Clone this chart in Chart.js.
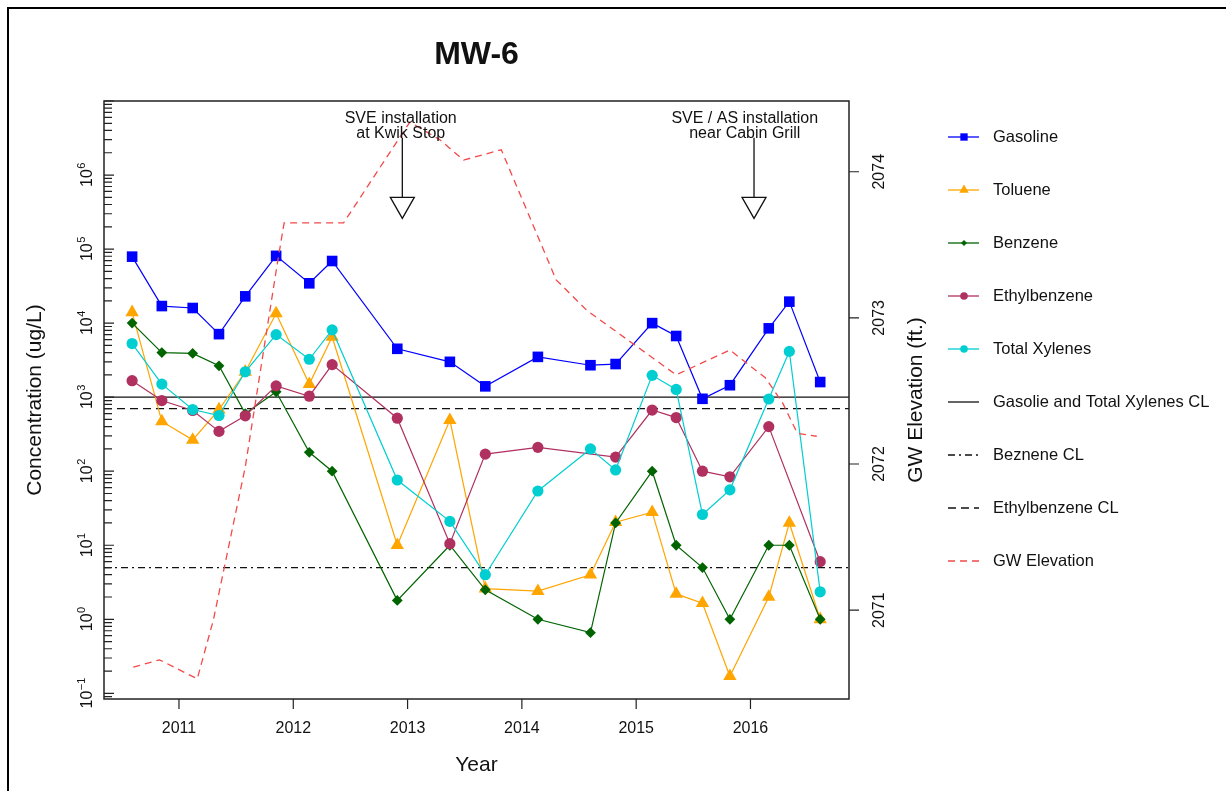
<!DOCTYPE html>
<html>
<head>
<meta charset="utf-8">
<script src="https://cdn.jsdelivr.net/npm/chart.js@4.4.0/dist/chart.umd.min.js"></script>
<style>
html,body{margin:0;padding:0;background:#fff;}
canvas{display:block;}
</style>
</head>
<body>
<canvas id="c" width="1226" height="791"></canvas>
<script>
// ---------------- DATA ----------------
const sampleDates = [2010.59, 2010.85, 2011.12, 2011.35, 2011.58, 2011.85, 2012.14, 2012.34, 2012.91, 2013.37, 2013.68,
                     2014.14, 2014.60, 2014.82, 2015.14, 2015.35, 2015.58, 2015.82, 2016.16, 2016.34, 2016.61];
const gasoline     = [79000, 17000, 16000, 7100, 23000, 81000, 34500, 69000, 4500, 3000, 1400,
                      3500, 2700, 2800, 10000, 6700, 950, 1450, 8500, 19500, 1600];
const toluene      = [14000, 470, 265, 680, 2200, 13500, 1500, 6500, 10, 490, 2.6,
                      2.4, 4.0, 20.5, 28, 2.2, 1.65, 0.17, 2.0, 20, 1.0];
const benzene      = [10000, 4000, 3900, 2650, 600, 1180, 180, 100, 1.8, 10, 2.5,
                      1.0, 0.66, 20, 100, 10, 5.0, 1.0, 10, 10, 1.0];
const ethylbenzene = [1670, 900, 660, 345, 560, 1420, 1030, 2750, 520, 10.5, 170,
                      210, null, 155, 670, 530, 100, 84, 400, null, 6.0];
const totalXylenes = [5300, 1500, 680, 565, 2200, 7000, 3250, 8100, 76, 21, 4.0,
                      54, 200, 104, 1970, 1270, 26, 56, 945, 4150, 2.35];

const gwDates     = [2010.60, 2010.83, 2011.16, 2011.30, 2011.58, 2011.86, 2011.92, 2012.44, 2013.02, 2013.28,
                     2013.49, 2013.82, 2014.30, 2014.57, 2015.35, 2015.82, 2016.13, 2016.28, 2016.41, 2016.58];
const gwElevation = [2070.61, 2070.66, 2070.53, 2070.93, 2071.98, 2073.37, 2073.65, 2073.65, 2074.34, 2074.22,
                     2074.08, 2074.15, 2073.26, 2073.05, 2072.61, 2072.78, 2072.59, 2072.42, 2072.21, 2072.19];

const clValues = [1000, 5, 700];
const clLabels = ['Gasolie and Total Xylenes CL', 'Beznene CL', 'Ethylbenzene CL'];

const yearTicks = [2011, 2012, 2013, 2014, 2015, 2016];
const concExponents = [-1, 0, 1, 2, 3, 4, 5, 6];
const gwTicks = [2071, 2072, 2073, 2074];

const eventLabels = [['SVE installation', 'at Kwik Stop'], ['SVE / AS installation', 'near Cabin Grill']];
const eventTextX = [2012.94, 2015.95];
const eventTextY = [5.7e6, 5.7e6];
const eventArrowX = [2012.954, 2016.031];
const eventArrowTop = [3.2e6, 3.2e6];
const eventArrowTip = [2.6e5, 2.6e5];

const seriesNames = ['Gasoline', 'Toluene', 'Benzene', 'Ethylbenzene', 'Total Xylenes'];
const seriesValues = [gasoline, toluene, benzene, ethylbenzene, totalXylenes];

// ---------------- STYLE ----------------
const FONT = '"Liberation Sans", Arial, Helvetica, sans-serif';
const seriesColors = ['#0000FF', '#FFA500', '#006400', '#B03060', '#00CED1'];
const seriesStyles = ['rect', 'triangle', 'rectRot', 'circle', 'circle'];
const seriesRadius = [7.5, 7.7, 5.4, 5.6, 5.6];
const legendRadius = [5.2, 5.4, 3.0, 3.8, 3.8];
const GW_COLOR = '#F24A4A';
const GW_DASH = [7, 5];
const CL_DASH = [[], [7, 4, 2, 4], [8, 5]];
const TEXT = '#111';

function pts(xs, ys) { return xs.map((x, i) => ({x: x, y: ys[i]})); }

const datasets = seriesNames.map((name, i) => ({
  label: name,
  data: pts(sampleDates, seriesValues[i]),
  yAxisID: 'y',
  borderColor: seriesColors[i],
  backgroundColor: seriesColors[i],
  pointBackgroundColor: seriesColors[i],
  pointStyle: seriesStyles[i],
  pointRadius: seriesRadius[i],
  pointHoverRadius: seriesRadius[i],
  pointBorderWidth: 0,
  borderWidth: 1.2,
  showLine: true,
  spanGaps: true,
  tension: 0,
  order: 10 - i
}));
datasets.push({
  label: 'GW Elevation',
  data: pts(gwDates, gwElevation),
  yAxisID: 'y2',
  borderColor: GW_COLOR,
  backgroundColor: GW_COLOR,
  borderDash: GW_DASH,
  borderWidth: 1.3,
  pointRadius: 0,
  pointHoverRadius: 0,
  showLine: true,
  tension: 0,
  order: 1
});

function rotText(ctx, text, x, y) {
  ctx.save();
  ctx.translate(x, y);
  ctx.rotate(-Math.PI / 2);
  ctx.textAlign = 'center';
  ctx.textBaseline = 'middle';
  ctx.fillText(text, 0, 0);
  ctx.restore();
}

function drawPow(ctx, exp, cx, cy) {
  ctx.save();
  ctx.translate(cx, cy);
  ctx.rotate(-Math.PI / 2);
  const e = String(exp).replace('-', '\u2212');
  ctx.font = '16px ' + FONT;
  const w1 = ctx.measureText('10').width;
  ctx.font = '11px ' + FONT;
  const w2 = ctx.measureText(e).width;
  const start = -(w1 + w2) / 2;
  ctx.textAlign = 'left';
  ctx.textBaseline = 'alphabetic';
  ctx.font = '16px ' + FONT;
  ctx.fillText('10', start, 6);
  ctx.font = '11px ' + FONT;
  ctx.fillText(e, start + w1 + 0.5, -1.5);
  ctx.restore();
}

const rplot = {
  id: 'rplot',
  beforeDatasetsDraw(chart) {
    const ctx = chart.ctx, a = chart.chartArea, y = chart.scales.y;
    ctx.save();
    ctx.beginPath();
    ctx.rect(a.left, a.top, a.right - a.left, a.bottom - a.top);
    ctx.clip();
    ctx.strokeStyle = '#111';
    ctx.lineWidth = 1.3;
    clValues.forEach((v, i) => {
      const py = y.getPixelForValue(v);
      ctx.setLineDash(CL_DASH[i]);
      ctx.beginPath();
      ctx.moveTo(a.left, py);
      ctx.lineTo(a.right, py);
      ctx.stroke();
    });
    ctx.restore();
  },
  afterDatasetsDraw(chart) {
    const ctx = chart.ctx, x = chart.scales.x, y = chart.scales.y;
    ctx.save();
    ctx.fillStyle = TEXT;
    ctx.font = '16px ' + FONT;
    ctx.textAlign = 'center';
    ctx.textBaseline = 'middle';
    eventLabels.forEach((lines, i) => {
      const tx = x.getPixelForValue(eventTextX[i]);
      const ty = y.getPixelForValue(eventTextY[i]);
      lines.forEach((t, j) => ctx.fillText(t, tx, ty + j * 14.5));
      const ax = x.getPixelForValue(eventArrowX[i]);
      const top = y.getPixelForValue(eventArrowTop[i]);
      const tip = y.getPixelForValue(eventArrowTip[i]);
      ctx.strokeStyle = '#111';
      ctx.lineWidth = 1.3;
      ctx.setLineDash([]);
      ctx.beginPath();
      ctx.moveTo(ax, top);
      ctx.lineTo(ax, tip - 21);
      ctx.stroke();
      ctx.beginPath();
      ctx.moveTo(ax - 12, tip - 21);
      ctx.lineTo(ax + 12, tip - 21);
      ctx.lineTo(ax, tip);
      ctx.closePath();
      ctx.stroke();
    });
    ctx.restore();
  },
  afterDraw(chart) {
    const ctx = chart.ctx, a = chart.chartArea;
    const x = chart.scales.x, y = chart.scales.y, y2 = chart.scales.y2;
    ctx.save();
    ctx.setLineDash([]);
    ctx.strokeStyle = '#222';
    ctx.lineWidth = 1.5;
    ctx.strokeRect(a.left, a.top, a.right - a.left, a.bottom - a.top);

    // left log ticks (inward)
    ctx.lineWidth = 1.2;
    ctx.beginPath();
    for (let k = -2; k <= 7; k++) {
      for (let m = 1; m <= 9; m++) {
        const v = m * Math.pow(10, k);
        if (v < y.min * 0.999 || v > y.max * 1.001) continue;
        const py = y.getPixelForValue(v);
        const len = m === 1 ? 10 : 8;
        ctx.moveTo(a.left, py);
        ctx.lineTo(a.left + len, py);
      }
    }
    // bottom ticks (outward)
    yearTicks.forEach(t => {
      const px = x.getPixelForValue(t);
      ctx.moveTo(px, a.bottom);
      ctx.lineTo(px, a.bottom + 10);
    });
    // right ticks (outward)
    gwTicks.forEach(t => {
      const py = y2.getPixelForValue(t);
      ctx.moveTo(a.right, py);
      ctx.lineTo(a.right + 10, py);
    });
    ctx.stroke();

    ctx.fillStyle = TEXT;
    // tick labels
    concExponents.forEach(e => drawPow(ctx, e, a.left - 18, y.getPixelForValue(Math.pow(10, e))));
    ctx.font = '16px ' + FONT;
    ctx.textAlign = 'center';
    ctx.textBaseline = 'middle';
    yearTicks.forEach(t => ctx.fillText(String(t), x.getPixelForValue(t), a.bottom + 30));
    gwTicks.forEach(t => rotText(ctx, String(t), a.right + 31, y2.getPixelForValue(t)));

    // axis titles
    const midY = (a.top + a.bottom) / 2;
    ctx.font = '21px ' + FONT;
    rotText(ctx, 'Concentration (ug/L)', 35, midY);
    rotText(ctx, 'GW Elevation (ft.)', a.right + 67, midY);
    ctx.fillText('Year', (a.left + a.right) / 2, 765);
    ctx.font = 'bold 32px ' + FONT;
    ctx.fillText('MW-6', (a.left + a.right) / 2, 55);

    // legend
    const lx0 = 948, lx1 = 979, lmx = 964, ltx = 993, ly0 = 137, lstep = 53;
    ctx.font = '16.5px ' + FONT;
    ctx.textAlign = 'left';
    ctx.textBaseline = 'middle';
    seriesNames.forEach((name, i) => {
      const ly = ly0 + i * lstep;
      ctx.strokeStyle = seriesColors[i];
      ctx.fillStyle = seriesColors[i];
      ctx.lineWidth = 1.3;
      ctx.beginPath(); ctx.moveTo(lx0, ly); ctx.lineTo(lx1, ly); ctx.stroke();
      Chart.helpers.drawPoint(ctx, {pointStyle: seriesStyles[i], radius: legendRadius[i], borderWidth: 0, rotation: 0}, lmx, ly);
      ctx.fillStyle = TEXT;
      ctx.fillText(name, ltx, ly);
    });
    clLabels.forEach((name, j) => {
      const ly = ly0 + (5 + j) * lstep;
      ctx.strokeStyle = '#111';
      ctx.lineWidth = 1.3;
      ctx.setLineDash(CL_DASH[j]);
      ctx.beginPath(); ctx.moveTo(lx0, ly); ctx.lineTo(lx1, ly); ctx.stroke();
      ctx.setLineDash([]);
      ctx.fillStyle = TEXT;
      ctx.fillText(name, ltx, ly);
    });
    {
      const ly = ly0 + 8 * lstep;
      ctx.strokeStyle = GW_COLOR;
      ctx.lineWidth = 1.3;
      ctx.setLineDash(GW_DASH);
      ctx.beginPath(); ctx.moveTo(lx0, ly); ctx.lineTo(lx1 + 2, ly); ctx.stroke();
      ctx.setLineDash([]);
      ctx.fillStyle = TEXT;
      ctx.fillText('GW Elevation', ltx, ly);
    }

    // figure frame
    ctx.strokeStyle = '#000';
    ctx.lineWidth = 2;
    ctx.beginPath();
    ctx.moveTo(8, 791); ctx.lineTo(8, 8); ctx.lineTo(1226, 8);
    ctx.stroke();
    ctx.restore();
  }
};

new Chart(document.getElementById('c'), {
  type: 'line',
  data: {datasets: datasets},
  options: {
    responsive: false,
    animation: false,
    devicePixelRatio: 1,
    events: [],
    layout: {padding: {left: 104, right: 377, top: 101, bottom: 92}},
    plugins: {legend: {display: false}, tooltip: {enabled: false}, title: {display: false}},
    scales: {
      x: {type: 'linear', display: false, bounds: 'data', min: 2010.344, max: 2016.862},
      y: {type: 'logarithmic', display: false, bounds: 'data', min: 0.0838, max: 1e7, position: 'left'},
      y2: {type: 'linear', display: false, bounds: 'data', min: 2070.392, max: 2074.484, position: 'right'}
    }
  },
  plugins: [rplot]
});
</script>
</body>
</html>
